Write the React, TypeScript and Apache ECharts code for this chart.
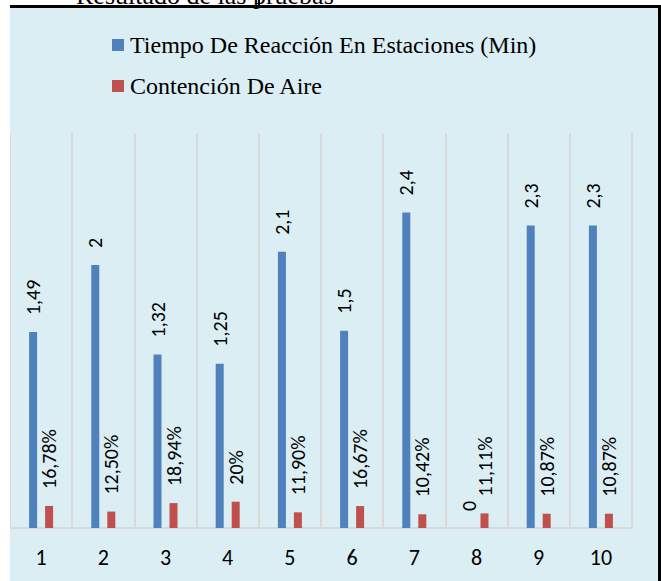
import React, { useEffect, useRef } from "react";
import * as echarts from "echarts";

const categories = ["1", "2", "3", "4", "5", "6", "7", "8", "9", "10"];
const tiempoValues = [1.49, 2, 1.32, 1.25, 2.1, 1.5, 2.4, 0, 2.3, 2.3];
const tiempoLabels = ["1,49", "2", "1,32", "1,25", "2,1", "1,5", "2,4", "0", "2,3", "2,3"];
const aireValues = [0.1678, 0.125, 0.1894, 0.2, 0.119, 0.1667, 0.1042, 0.1111, 0.1087, 0.1087];
const aireLabels = ["16,78%", "12,50%", "18,94%", "20%", "11,90%", "16,67%", "10,42%", "11,11%", "10,87%", "10,87%"];
const seriesNames = ["Tiempo De Reacción En Estaciones (Min)", "Contención De Aire"];
const seriesColors = ["#4F81BD", "#C0504D"];
const titleText = "Resultado de las pruebas";

const SANS = "Carlito, 'Open Sans', 'Noto Sans', sans-serif";
const SERIF = "Times New Roman";

export default function App() {
  const ref = useRef<HTMLDivElement>(null);
  useEffect(() => {
    if (!ref.current) return;
    const chart = echarts.init(ref.current, null, { renderer: "svg" });
    const labelBase = {
      show: true,
      position: "top",
      distance: 17,
      rotate: 90,
      align: "left",
      verticalAlign: "middle",
      fontSize: 20,
      fontFamily: SANS,
      color: "#000",
    };
    const legendItems: any[] = [];
    seriesNames.forEach((name, i) => {
      const cy = 45 + i * 41;
      legendItems.push({
        type: "rect",
        shape: { x: 112, y: cy - 6, width: 12, height: 12 },
        style: { fill: seriesColors[i] },
        z: 50,
      });
      legendItems.push({
        type: "text",
        x: 130,
        y: cy,
        z: 50,
        style: { text: name, fontSize: 24, fontFamily: SERIF, fill: "#000", verticalAlign: "middle", align: "left" },
      });
    });
    chart.setOption({
      animation: false,
      backgroundColor: "#DAEEF3",
      graphic: {
        elements: [
          ...legendItems,
          { type: "rect", shape: { x: 0, y: 0, width: 10, height: 581 }, style: { fill: "#fff" }, z: 100 },
          { type: "rect", shape: { x: 0, y: 0, width: 661, height: 6 }, style: { fill: "#fff" }, z: 100 },
          {
            type: "text",
            x: 76,
            y: 8,
            z: 101,
            style: { text: titleText, fontSize: 26, fontFamily: SERIF, fill: "#000", verticalAlign: "bottom", align: "left" },
          },
          { type: "rect", shape: { x: 10, y: 5, width: 651, height: 3 }, style: { fill: "#000" }, z: 102 },
          { type: "rect", shape: { x: 658, y: 5, width: 3, height: 576 }, style: { fill: "#000" }, z: 102 },
          { type: "rect", shape: { x: 258, y: 0, width: 2, height: 6 }, style: { fill: "#000" }, z: 102 },
        ],
      },
      grid: { left: 10, right: 29, top: 133.5, bottom: 53, containLabel: false },
      xAxis: {
        type: "category",
        data: categories,
        axisLine: { show: true, lineStyle: { color: "#D9D9D9", width: 2 } },
        axisTick: { show: false },
        axisLabel: { color: "#000", fontSize: 22, fontFamily: SANS, margin: 18 },
        splitLine: { show: true, lineStyle: { color: "#D9D9D9", width: 2 } },
      },
      yAxis: {
        type: "value",
        min: 0,
        max: 3,
        show: false,
        splitLine: { show: false },
      },
      series: [
        {
          name: seriesNames[0],
          type: "bar",
          data: tiempoValues,
          barWidth: 8,
          barGap: "100%",
          itemStyle: { color: seriesColors[0] },
          label: { ...labelBase, formatter: (p: any) => tiempoLabels[p.dataIndex] },
        },
        {
          name: seriesNames[1],
          type: "bar",
          data: aireValues,
          barWidth: 8,
          itemStyle: { color: seriesColors[1] },
          label: { ...labelBase, formatter: (p: any) => aireLabels[p.dataIndex] },
        },
      ],
    });
    return () => chart.dispose();
  }, []);
  return <div ref={ref} style={{ position: "absolute", left: 0, top: 0, width: 661, height: 581 }} />;
}
